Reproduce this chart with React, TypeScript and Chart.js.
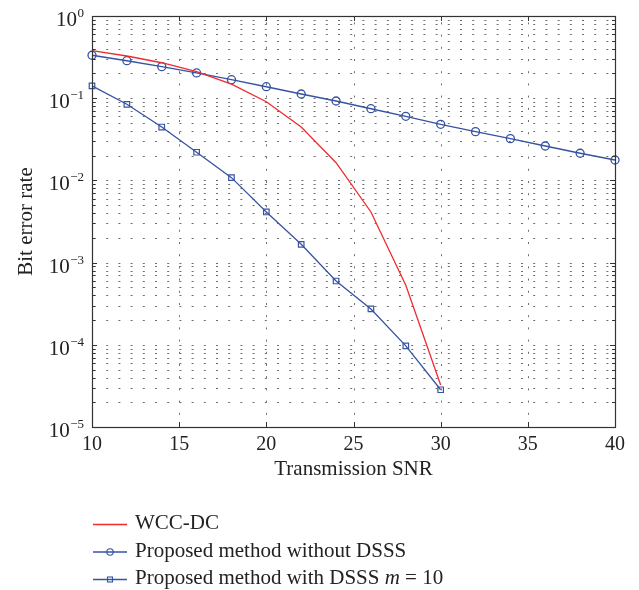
import React, { useEffect, useRef } from 'react';
import { Chart, registerables } from 'chart.js';
Chart.register(...registerables);

const snrAll = [10, 12, 14, 16, 18, 20, 22, 24, 26, 28, 30, 32, 34, 36, 38, 40];
const snrTo30 = [10, 12, 14, 16, 18, 20, 22, 24, 26, 28, 30];
const berWccDc = [0.378, 0.326, 0.27, 0.21, 0.148, 0.0907, 0.0446, 0.0164, 0.00413, 0.00053, 0.0000324];
const berWithoutDsss = [0.333, 0.286, 0.242, 0.203, 0.168, 0.138, 0.1125, 0.0925, 0.0745, 0.0602, 0.0481, 0.0392, 0.0322, 0.0262, 0.0214, 0.0177];
const berWithDsss = [0.141, 0.0843, 0.0446, 0.022, 0.0108, 0.00413, 0.00167, 0.000597, 0.000273, 0.000097, 0.0000284];
const xTickValues = [10, 15, 20, 25, 30, 35, 40];
const yDecadeExponents = [0, -1, -2, -3, -4, -5];
const seriesLabels = ['WCC-DC', 'Proposed method without DSSS', 'Proposed method with DSSS'];
const xTitle = 'Transmission SNR';
const yTitle = 'Bit error rate';

const FONT = '"Liberation Serif", "Times New Roman", serif';
const BLUE = '#3653a3';
const RED = '#f02a2e';
const TEXT = '#222222';

const toPoints = (xs: number[], ys: number[]) => xs.map((v, i) => ({ x: v, y: ys[i] }));

const decorPlugin = {
  id: 'matlabDecor',
  beforeDatasetsDraw(chart: any) {
    const { ctx, chartArea: a, scales } = chart;
    const x = scales.x;
    const y = scales.y;
    ctx.save();
    ctx.strokeStyle = '#6e6e6e';
    ctx.lineWidth = 1;
    ctx.setLineDash([2, 10.2]);
    for (let k = -5; k < 0; k++) {
      for (let m = 1; m < 10; m++) {
        if (k === -5 && m === 1) continue;
        const v = m * Math.pow(10, k);
        const py = Math.round(y.getPixelForValue(v)) + 0.5;
        ctx.beginPath();
        ctx.moveTo(a.left + 2, py);
        ctx.lineTo(a.right, py);
        ctx.stroke();
      }
    }
    for (const t of xTickValues) {
      if (t === xTickValues[0] || t === xTickValues[xTickValues.length - 1]) continue;
      const px = Math.round(x.getPixelForValue(t)) + 0.5;
      ctx.beginPath();
      ctx.moveTo(px, a.bottom);
      ctx.lineTo(px, a.top);
      ctx.stroke();
    }
    ctx.restore();
  },
  afterDraw(chart: any) {
    const { ctx, chartArea: a, scales } = chart;
    const x = scales.x;
    const y = scales.y;
    ctx.save();
    // frame
    ctx.strokeStyle = '#333333';
    ctx.lineWidth = 1.2;
    ctx.setLineDash([]);
    ctx.strokeRect(a.left + 0.5, a.top + 0.5, a.right - a.left, a.bottom - a.top);
    // ticks
    ctx.lineWidth = 1;
    const line = (x1: number, y1: number, x2: number, y2: number) => {
      ctx.beginPath();
      ctx.moveTo(x1, y1);
      ctx.lineTo(x2, y2);
      ctx.stroke();
    };
    for (const t of xTickValues) {
      const px = Math.round(x.getPixelForValue(t)) + 0.5;
      line(px, a.bottom, px, a.bottom - 5);
      line(px, a.top, px, a.top + 5);
    }
    for (let k = -5; k <= 0; k++) {
      for (let m = 1; m < 10; m++) {
        if (k === 0 && m > 1) continue;
        const v = m * Math.pow(10, k);
        const py = Math.round(y.getPixelForValue(v)) + 0.5;
        const len = m === 1 ? 5 : 3;
        line(a.left, py, a.left + len, py);
        line(a.right, py, a.right - len, py);
      }
    }
    // x tick labels
    ctx.fillStyle = TEXT;
    ctx.font = `20px ${FONT}`;
    ctx.textAlign = 'center';
    ctx.textBaseline = 'alphabetic';
    for (const t of xTickValues) {
      ctx.fillText(String(t), x.getPixelForValue(t), a.bottom + 23);
    }
    // y tick labels 10^k
    for (const k of yDecadeExponents) {
      const py = y.getPixelForValue(Math.pow(10, k));
      const exp = k === 0 ? '0' : '\u2212' + String(-k);
      ctx.font = `13px ${FONT}`;
      ctx.textAlign = 'right';
      const ew = ctx.measureText(exp).width;
      const rightEdge = a.left - 8;
      ctx.fillText(exp, rightEdge, py + 1);
      ctx.font = `21px ${FONT}`;
      ctx.fillText('10', rightEdge - ew - 0.5, py + 10);
    }
    // axis titles
    ctx.font = `21px ${FONT}`;
    ctx.textAlign = 'center';
    ctx.fillText(xTitle, (a.left + a.right) / 2, a.bottom + 48);
    ctx.save();
    ctx.translate(32, (a.top + a.bottom) / 2);
    ctx.rotate(-Math.PI / 2);
    ctx.fillText(yTitle, 0, 0);
    ctx.restore();
    // legend
    const rows = [524, 551.5, 579];
    const ds = chart.data.datasets;
    for (let i = 0; i < ds.length; i++) {
      const d = ds[i];
      const ry = rows[i] + 0.5;
      ctx.strokeStyle = d.borderColor;
      ctx.lineWidth = 1.3;
      line(93, ry, 127, ry);
      ctx.lineWidth = 1.1;
      if (d.pointStyle === 'circle' && d.pointRadius > 0) {
        ctx.beginPath();
        ctx.arc(110, ry, 3.2, 0, Math.PI * 2);
        ctx.stroke();
      } else if (d.pointStyle === 'rect' && d.pointRadius > 0) {
        ctx.strokeRect(107.5, ry - 2.5, 5, 5);
      }
      ctx.fillStyle = TEXT;
      ctx.textAlign = 'left';
      ctx.font = `21px ${FONT}`;
      const ty = rows[i] + 5;
      if (i === 2) {
        let cx = 135;
        const part1 = seriesLabels[2] + ' ';
        ctx.fillText(part1, cx, ty);
        cx += ctx.measureText(part1).width;
        ctx.font = `italic 21px ${FONT}`;
        ctx.fillText('m', cx, ty);
        cx += ctx.measureText('m').width;
        ctx.font = `21px ${FONT}`;
        ctx.fillText(' = 10', cx, ty);
      } else {
        ctx.fillText(seriesLabels[i], 135, ty);
      }
    }
    ctx.restore();
  },
};

export default function App() {
  const ref = useRef<HTMLCanvasElement>(null);
  useEffect(() => {
    const chart = new Chart(ref.current as HTMLCanvasElement, {
      type: 'line',
      data: {
        datasets: [
          {
            label: seriesLabels[0],
            data: toPoints(snrTo30, berWccDc),
            borderColor: RED,
            backgroundColor: RED,
            borderWidth: 1.3,
            pointRadius: 0,
            pointStyle: 'circle',
            clip: false,
          },
          {
            label: seriesLabels[1],
            data: toPoints(snrAll, berWithoutDsss),
            borderColor: BLUE,
            backgroundColor: 'rgba(0,0,0,0)',
            pointBackgroundColor: 'rgba(0,0,0,0)',
            pointBorderColor: BLUE,
            borderWidth: 1.4,
            pointRadius: 4,
            pointBorderWidth: 1.3,
            pointStyle: 'circle',
            clip: false,
          },
          {
            label: seriesLabels[2],
            data: toPoints(snrTo30, berWithDsss),
            borderColor: BLUE,
            backgroundColor: 'rgba(0,0,0,0)',
            pointBackgroundColor: 'rgba(0,0,0,0)',
            pointBorderColor: BLUE,
            borderWidth: 1.3,
            pointRadius: 3.9,
            pointBorderWidth: 1.2,
            pointStyle: 'rect',
            clip: false,
          },
        ] as any,
      },
      options: {
        responsive: false,
        animation: false,
        devicePixelRatio: 1,
        layout: { padding: { left: 92, top: 16, right: 24, bottom: 163 } },
        elements: { line: { tension: 0 } },
        plugins: { legend: { display: false }, tooltip: { enabled: false } },
        scales: {
          x: { type: 'linear', min: 10, max: 40, display: false },
          y: { type: 'logarithmic', min: 1e-5, max: 1, display: false },
        },
      } as any,
      plugins: [decorPlugin],
    });
    return () => chart.destroy();
  }, []);
  return (
    <div style={{ position: 'fixed', left: 0, top: 0, width: 639, height: 590, background: '#fff' }}>
      <canvas ref={ref} width={639} height={590} style={{ display: 'block', width: 639, height: 590 }} />
    </div>
  );
}
